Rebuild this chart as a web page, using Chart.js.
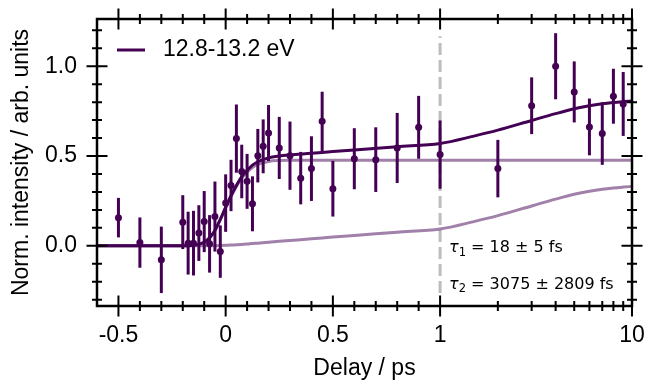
<!DOCTYPE html>
<html>
<head>
<meta charset="utf-8">
<script src="https://cdn.jsdelivr.net/npm/chart.js@4.4.1/dist/chart.umd.min.js"></script>
<style>html,body{margin:0;padding:0;background:#fff}</style>
</head>
<body>
<canvas id="chart" width="646" height="380"></canvas>
<script>
// measured points
const delays = [-0.5, -0.4, -0.3, -0.2, -0.175, -0.15, -0.125, -0.1, -0.075, -0.05, -0.025, 0,
  0.025, 0.05, 0.075, 0.1, 0.125, 0.15, 0.175, 0.2, 0.25, 0.3, 0.35, 0.4, 0.45, 0.5,
  0.6, 0.7, 0.8, 0.9, 1, 2, 3, 4, 5, 6, 7, 8, 9];
const intensity = [0.157, 0.018, -0.078, 0.132, 0.015, 0.015, 0.071, 0.135, 0.011, 0.163, -0.032, 0.238,
  0.336, 0.597, 0.414, 0.359, 0.234, 0.502, 0.554, 0.628, 0.545, 0.502, 0.377, 0.43, 0.693, 0.318,
  0.485, 0.48, 0.545, 0.66, 0.508, 0.43, 0.78, 1.0, 0.857, 0.662, 0.625, 0.833, 0.79];
const errors = [0.11, 0.14, 0.185, 0.15, 0.175, 0.18, 0.155, 0.17, 0.16, 0.195, 0.146, 0.16,
  0.143, 0.19, 0.149, 0.153, 0.153, 0.149, 0.15, 0.156, 0.173, 0.19, 0.146, 0.18, 0.165, 0.155,
  0.17, 0.18, 0.195, 0.175, 0.19, 0.16, 0.158, 0.184, 0.17, 0.158, 0.174, 0.153, 0.178];

// fit curves
const fitDelays = [-0.6, -0.2, -0.15, -0.1, -0.075, -0.05, -0.025, 0, 0.025, 0.05, 0.075, 0.1, 0.125, 0.15,
  0.2, 0.25, 0.3, 0.4, 0.5, 0.6, 0.8, 1, 1.5, 2, 3, 4, 5, 6, 7, 8, 9, 10];
const fitTotal = [0, 0, 0.003, 0.02, 0.045, 0.086, 0.147, 0.215, 0.279, 0.336, 0.386, 0.42, 0.449, 0.468,
  0.49, 0.5, 0.506, 0.515, 0.525, 0.534, 0.552, 0.57, 0.611, 0.644, 0.698, 0.736, 0.763, 0.78, 0.791, 0.798, 0.803, 0.807];
const fitFast = [0, 0, 0.003, 0.02, 0.045, 0.085, 0.145, 0.212, 0.275, 0.33, 0.378, 0.41, 0.436, 0.453,
  0.47, 0.475, 0.476, 0.476, 0.476, 0.476, 0.476, 0.476, 0.476, 0.476, 0.476, 0.476, 0.476, 0.476, 0.476, 0.476, 0.476, 0.476];
const fitSlow = [0, 0, 0, 0, 0, 0.001, 0.002, 0.003, 0.004, 0.006, 0.008, 0.01, 0.013, 0.015,
  0.02, 0.025, 0.03, 0.039, 0.049, 0.058, 0.076, 0.094, 0.135, 0.168, 0.222, 0.26, 0.287, 0.304, 0.315, 0.322, 0.327, 0.331];

const markerDelay = 1;
const markerRange = [-0.262, 1.167];

const xMajorTicks = [-0.5, 0, 0.5, 1, 10];
const xTickLabels = ['-0.5', '0', '0.5', '1', '10'];
const xMinorTicks = [-0.4, -0.3, -0.2, -0.1, 0.1, 0.2, 0.3, 0.4, 0.6, 0.7, 0.8, 0.9, 2, 3, 4, 5, 6, 7, 8, 9];
const yMajorTicks = [0, 0.5, 1.0];
const yTickLabels = ['0.0', '0.5', '1.0'];
const yMinorTicks = [-0.3, -0.2, -0.1, 0.1, 0.2, 0.3, 0.4, 0.6, 0.7, 0.8, 0.9, 1.1, 1.2];

const seriesLabel = '12.8-13.2 eV';
const tauLines = [['τ', '1', ' = 18 ± 5 fs'], ['τ', '2', ' = 3075 ± 2809 fs']];

const DARK = '#440154';
const LIGHT = 'rgba(68,1,84,0.5)';
const FONT = "'Liberation Sans', Arial, sans-serif";

// linear below 1 ps, log10 above; one decade takes K linear units
const K = 0.895;
const fwd = v => v <= 1 ? v : 1 + K * Math.log10(v);
const inv = t => t <= 1 ? t : Math.pow(10, (t - 1) / K);

class LinLogScale extends Chart.LinearScale {
  buildTicks() {
    return xMajorTicks.map(v => ({ value: v }));
  }
  configure() {
    super.configure();
    this._tStart = fwd(this.min);
    this._tRange = fwd(this.max) - fwd(this.min);
  }
  getPixelForValue(v) {
    return this.getPixelForDecimal((fwd(v) - this._tStart) / this._tRange);
  }
  getValueForPixel(p) {
    return inv(this._tStart + this.getDecimalForPixel(p) * this._tRange);
  }
}
LinLogScale.id = 'linlog';
LinLogScale.defaults = Chart.LinearScale.defaults;
Chart.register(LinLogScale);

const errorBars = {
  id: 'errorBars',
  beforeDatasetDraw(chart, args) {
    if (args.index !== 0) return;
    const { ctx, chartArea: a, scales: { x, y } } = chart;
    ctx.save();
    ctx.beginPath();
    ctx.rect(a.left, a.top, a.right - a.left, a.bottom - a.top);
    ctx.clip();
    ctx.strokeStyle = DARK;
    ctx.lineWidth = 3;
    delays.forEach((d, i) => {
      const px = x.getPixelForValue(d);
      ctx.beginPath();
      ctx.moveTo(px, y.getPixelForValue(intensity[i] - errors[i]));
      ctx.lineTo(px, y.getPixelForValue(intensity[i] + errors[i]));
      ctx.stroke();
    });
    ctx.restore();
  }
};

const frame = {
  id: 'frame',
  afterDatasetsDraw(chart) {
    const { ctx, chartArea: a, scales: { x, y } } = chart;
    ctx.save();
    ctx.strokeStyle = '#000';
    ctx.lineWidth = 2;
    const xt = (v, h) => {
      const p = x.getPixelForValue(v);
      ctx.beginPath();
      ctx.moveTo(p, a.bottom - h); ctx.lineTo(p, a.bottom + h);
      ctx.moveTo(p, a.top - h); ctx.lineTo(p, a.top + h);
      ctx.stroke();
    };
    const yt = (v, h) => {
      const p = y.getPixelForValue(v);
      ctx.beginPath();
      ctx.moveTo(a.left - h, p); ctx.lineTo(a.left + h, p);
      ctx.moveTo(a.right - h, p); ctx.lineTo(a.right + h, p);
      ctx.stroke();
    };
    xMajorTicks.forEach(v => xt(v, 10.5));
    xMinorTicks.forEach(v => xt(v, 5));
    yMajorTicks.forEach(v => yt(v, 10.5));
    yMinorTicks.forEach(v => yt(v, 5));
    ctx.lineWidth = 2.5;
    ctx.strokeRect(a.left, a.top, a.right - a.left, a.bottom - a.top);

    // legend
    ctx.strokeStyle = DARK;
    ctx.lineWidth = 3;
    ctx.beginPath();
    ctx.moveTo(a.left + 20, a.top + 31);
    ctx.lineTo(a.left + 48, a.top + 31);
    ctx.stroke();
    ctx.fillStyle = '#000';
    ctx.font = '23px ' + FONT;
    ctx.textBaseline = 'middle';
    ctx.fillText(seriesLabel, a.left + 66, a.top + 31);

    // time constants
    ctx.textBaseline = 'alphabetic';
    const tx = x.getPixelForValue(markerDelay) + 9;
    [y.getPixelForValue(-0.035), y.getPixelForValue(-0.24)].forEach((by, i) => {
      let cx = tx;
      const [sym, sub, rest] = tauLines[i];
      ctx.font = 'italic 16px "DejaVu Sans"';
      ctx.fillText(sym, cx, by);
      cx += ctx.measureText(sym).width;
      ctx.font = '11.5px "DejaVu Sans"';
      ctx.fillText(sub, cx, by + 3.5);
      cx += ctx.measureText(sub).width;
      ctx.font = '16px "DejaVu Sans"';
      ctx.fillText(rest, cx, by);
    });
    ctx.restore();
  }
};

Chart.defaults.font.family = FONT;
Chart.defaults.color = '#000';

new Chart(document.getElementById('chart'), {
  type: 'scatter',
  data: {
    datasets: [
      {
        label: seriesLabel,
        data: delays.map((d, i) => ({ x: d, y: intensity[i] })),
        backgroundColor: DARK,
        borderWidth: 0,
        pointRadius: 3.5,
        order: 0
      },
      {
        data: fitDelays.map((d, i) => ({ x: d, y: fitTotal[i] })),
        showLine: true,
        borderColor: DARK,
        borderWidth: 3,
        pointRadius: 0,
        cubicInterpolationMode: 'monotone',
        order: 1
      },
      {
        data: fitDelays.map((d, i) => ({ x: d, y: fitFast[i] })),
        showLine: true,
        borderColor: LIGHT,
        borderWidth: 3,
        pointRadius: 0,
        cubicInterpolationMode: 'monotone',
        order: 2
      },
      {
        data: fitDelays.map((d, i) => ({ x: d, y: fitSlow[i] })),
        showLine: true,
        borderColor: LIGHT,
        borderWidth: 3,
        pointRadius: 0,
        cubicInterpolationMode: 'monotone',
        order: 3
      },
      {
        data: markerRange.map(v => ({ x: markerDelay, y: v })),
        showLine: true,
        borderColor: '#bdbdbd',
        borderWidth: 3,
        borderDash: [12, 5],
        pointRadius: 0,
        order: 4
      }
    ]
  },
  options: {
    responsive: false,
    animation: false,
    devicePixelRatio: 1,
    layout: { padding: { left: 0, right: 14, top: 19, bottom: 0 } },
    plugins: { legend: { display: false }, tooltip: { enabled: false } },
    scales: {
      x: {
        type: 'linlog',
        min: -0.6,
        max: 10,
        afterFit: s => { s.height = 74; s.paddingLeft = 0; s.paddingRight = 0; },
        grid: { drawOnChartArea: false, tickLength: 10, tickColor: 'rgba(0,0,0,0)' },
        border: { display: false },
        ticks: {
          autoSkip: false,
          maxRotation: 0,
          padding: 6,
          font: { size: 23 },
          callback: (v, i) => xTickLabels[i]
        },
        title: { display: true, text: 'Delay / ps', font: { size: 23, lineHeight: 1 }, padding: { top: 0, bottom: 0 } }
      },
      y: {
        min: -0.335,
        max: 1.263,
        afterFit: s => { s.width = 97; s.paddingTop = 0; s.paddingBottom = 0; },
        afterBuildTicks: s => { s.ticks = yMajorTicks.map(v => ({ value: v })); },
        grid: { drawOnChartArea: false, tickLength: 10, tickColor: 'rgba(0,0,0,0)' },
        border: { display: false },
        ticks: {
          padding: 10,
          font: { size: 23 },
          callback: (v, i) => yTickLabels[i]
        },
        title: { display: true, text: 'Norm. intensity / arb. units', font: { size: 23, lineHeight: 1 }, padding: { top: 10, bottom: 0 } }
      }
    }
  },
  plugins: [errorBars, frame]
});
</script>
</body>
</html>
